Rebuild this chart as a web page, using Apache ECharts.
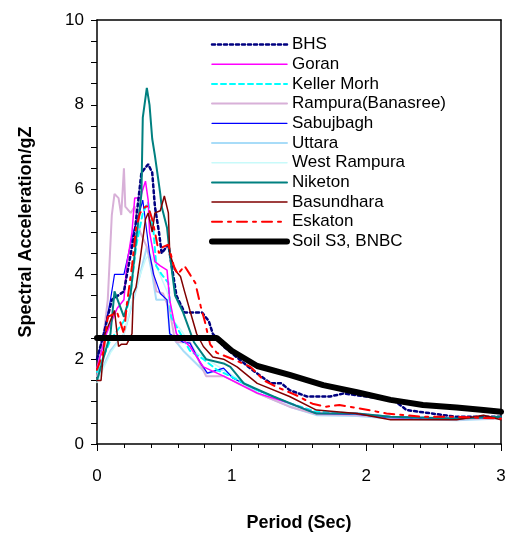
<!DOCTYPE html>
<html>
<head>
<meta charset="utf-8">
<script src="https://cdn.jsdelivr.net/npm/echarts@6/dist/echarts.min.js"></script>
<style>
  html, body { margin: 0; padding: 0; background: #fff; }
  #main { width: 514px; height: 542px; }
</style>
</head>
<body>
<div id="main"></div>
<script>
// 各测站的加速度反应谱 [周期(s), Sa/g]
var bhs = [[0,2.0],[0.05,2.6],[0.11,3.4],[0.2,3.6],[0.28,5.0],[0.33,6.4],[0.38,6.6],[0.41,6.4],[0.43,5.6],[0.46,5.0],[0.48,4.5],[0.53,4.7],[0.59,3.5],[0.65,3.1],[0.78,3.1],[0.83,2.9],[0.86,2.6],[0.94,2.3],[1.14,1.78],[1.29,1.43],[1.37,1.43],[1.43,1.27],[1.56,1.12],[1.73,1.12],[1.83,1.19],[2.2,1.04],[2.3,0.8],[2.67,0.64],[3.0,0.64]];
var goran = [[0,1.8],[0.07,2.6],[0.15,3.2],[0.2,3.4],[0.22,4.2],[0.26,5.0],[0.28,5.8],[0.32,5.8],[0.36,6.2],[0.38,5.75],[0.39,5.0],[0.43,4.3],[0.47,4.2],[0.52,4.1],[0.54,3.4],[0.59,2.6],[0.69,2.3],[0.79,1.82],[0.94,1.6],[1.19,1.2],[1.43,0.96],[1.63,0.72],[1.93,0.72],[2.18,0.64],[2.67,0.6],[3.0,0.64]];
var kellerMorh = [[0,1.7],[0.1,2.45],[0.2,2.9],[0.25,3.55],[0.29,4.65],[0.34,5.45],[0.38,5.7],[0.42,5.0],[0.44,4.2],[0.48,4.0],[0.53,3.8],[0.55,3.0],[0.62,2.6],[0.69,2.2],[0.79,2.0],[0.89,1.75],[0.99,1.6],[1.19,1.27],[1.43,0.96],[1.63,0.76],[1.93,0.72],[2.18,0.64],[2.67,0.6],[3.0,0.64]];
var rampuraBanasree = [[0,1.6],[0.05,2.6],[0.08,3.4],[0.11,5.4],[0.13,5.9],[0.16,5.8],[0.18,5.4],[0.2,6.5],[0.21,5.6],[0.25,5.45],[0.28,5.6],[0.32,5.0],[0.37,4.65],[0.41,4.2],[0.44,3.6],[0.49,3.55],[0.54,3.15],[0.57,2.6],[0.59,2.4],[0.69,2.4],[0.81,1.6],[0.94,1.6],[1.19,1.2],[1.43,0.88],[1.63,0.7],[1.93,0.68],[2.18,0.62],[2.67,0.58],[3.0,0.62]];
var sabujbagh = [[0,2.0],[0.05,2.6],[0.1,3.4],[0.13,4.0],[0.2,4.0],[0.27,5.0],[0.31,5.4],[0.34,5.75],[0.37,5.0],[0.39,4.5],[0.42,4.0],[0.47,3.55],[0.52,3.4],[0.54,2.6],[0.64,2.4],[0.69,2.38],[0.77,1.9],[0.82,1.67],[0.94,1.79],[1.01,1.55],[1.19,1.27],[1.43,0.96],[1.63,0.72],[1.93,0.7],[2.18,0.62],[2.67,0.6],[3.0,0.63]];
var uttara = [[0,1.5],[0.1,2.2],[0.2,2.6],[0.27,3.4],[0.32,4.0],[0.37,4.65],[0.41,4.0],[0.44,3.4],[0.52,3.4],[0.54,2.6],[0.64,2.2],[0.81,1.67],[0.94,1.75],[1.19,1.2],[1.43,0.88],[1.63,0.68],[1.93,0.66],[2.18,0.6],[2.67,0.56],[3.0,0.6]];
var westRampura = [[0,1.45],[0.1,2.15],[0.2,2.6],[0.29,3.7],[0.36,4.35],[0.39,4.5],[0.44,4.2],[0.52,3.6],[0.57,2.9],[0.62,2.7],[0.74,2.15],[0.94,1.75],[1.19,1.27],[1.43,0.92],[1.63,0.7],[1.93,0.68],[2.18,0.62],[2.67,0.58],[3.0,0.62]];
var niketon = [[0,1.5],[0.1,2.6],[0.13,3.6],[0.2,3.0],[0.25,3.55],[0.29,4.8],[0.33,5.9],[0.34,7.7],[0.37,8.4],[0.39,8.0],[0.41,7.2],[0.43,6.8],[0.47,5.9],[0.48,5.6],[0.52,5.1],[0.54,4.5],[0.58,3.5],[0.64,3.1],[0.72,2.4],[0.81,2.0],[0.94,1.9],[0.99,1.82],[1.09,1.43],[1.31,1.12],[1.56,0.8],[1.63,0.72],[1.93,0.72],[2.18,0.64],[2.67,0.6],[3.0,0.64]];
var basundhara = [[0,1.5],[0.03,1.5],[0.06,2.6],[0.13,3.15],[0.16,2.3],[0.18,2.35],[0.22,2.35],[0.26,2.6],[0.27,3.55],[0.29,3.7],[0.32,4.35],[0.36,5.3],[0.38,5.45],[0.41,5.0],[0.43,5.45],[0.47,5.5],[0.5,5.85],[0.53,5.45],[0.54,4.5],[0.58,4.1],[0.62,3.95],[0.65,3.6],[0.69,3.15],[0.74,2.6],[0.79,2.3],[0.86,2.05],[0.94,2.0],[1.04,1.82],[1.19,1.43],[1.43,1.12],[1.63,0.8],[1.93,0.72],[2.18,0.57],[2.67,0.57],[2.87,0.68],[3.0,0.57]];
var eskaton = [[0,1.75],[0.05,2.2],[0.08,3.0],[0.15,3.1],[0.2,2.6],[0.22,3.25],[0.26,4.2],[0.29,5.1],[0.32,5.45],[0.36,5.6],[0.38,5.6],[0.41,5.3],[0.43,5.0],[0.46,4.5],[0.49,4.65],[0.53,4.7],[0.57,4.2],[0.6,4.0],[0.65,4.2],[0.69,4.0],[0.73,3.8],[0.77,3.25],[0.8,2.9],[0.84,2.35],[0.89,2.15],[1.01,2.0],[1.14,1.82],[1.24,1.5],[1.33,1.35],[1.48,1.15],[1.6,0.95],[1.7,0.88],[1.8,0.92],[1.95,0.84],[2.15,0.72],[2.42,0.64],[2.67,0.64],[3.0,0.6]];
var soilS3 = [[0,2.5],[0.89,2.5],[1.0,2.2],[1.19,1.84],[1.43,1.63],[1.68,1.39],[1.93,1.22],[2.18,1.04],[2.42,0.92],[2.67,0.86],[2.87,0.8],[3.0,0.76]];

var seriesNames = ['BHS', 'Goran', 'Keller Morh', 'Rampura(Banasree)', 'Sabujbagh', 'Uttara', 'West Rampura', 'Niketon', 'Basundhara', 'Eskaton', 'Soil S3, BNBC'];
var seriesData = [bhs, goran, kellerMorh, rampuraBanasree, sabujbagh, uttara, westRampura, niketon, basundhara, eskaton, soilS3];
var xTicks = [0, 1, 2, 3];
var yTicks = [0, 2, 4, 6, 8, 10];

var styles = [
    { color: '#000080', width: 2.5, type: [3, 3] },
    { color: '#FF00FF', width: 1.5, type: 'solid' },
    { color: '#00FFFF', width: 2, type: [5, 4] },
    { color: '#D8B0D8', width: 2, type: 'solid' },
    { color: '#0000FF', width: 1.2, type: 'solid' },
    { color: '#A8DCF8', width: 2, type: 'solid' },
    { color: '#C8FAFA', width: 1.5, type: 'solid' },
    { color: '#008080', width: 2, type: 'solid' },
    { color: '#800000', width: 1.5, type: 'solid' },
    { color: '#FF0000', width: 2, type: [10, 6, 3, 6] },
    { color: '#000000', width: 6, type: 'solid' }
];

var font = 'Liberation Sans, Arial, sans-serif';
var myChart = echarts.init(document.getElementById('main'));

var series = seriesNames.map(function (name, i) {
    return {
        name: name,
        type: 'line',
        data: seriesData[i],
        showSymbol: false,
        animation: false,
        z: i === 10 ? 5 : 2,
        lineStyle: { color: styles[i].color, width: styles[i].width, type: styles[i].type, cap: 'round' },
        itemStyle: { color: styles[i].color }
    };
});
// 底层先画浅色的线
var order = [5, 6, 3, 4, 2, 1, 0, 7, 8, 9, 10];
series = order.map(function (i) { return series[i]; });

var option = {
    backgroundColor: '#fff',
    textStyle: { fontFamily: font },
    legend: {
        show: true,
        orient: 'vertical',
        left: 209,
        top: 36,
        data: seriesNames,
        itemWidth: 75,
        itemHeight: 12,
        itemGap: 2.7,
        padding: 0,
        itemStyle: { opacity: 0 },
        lineStyle: { width: 'inherit' },
        textStyle: { fontSize: 17, color: '#000', fontFamily: font, lineHeight: 17 }
    },
    grid: { left: 97, right: 13, top: 20, bottom: 98 },
    xAxis: [{
        type: 'value',
        min: xTicks[0],
        max: xTicks[xTicks.length - 1],
        interval: 1,
        name: 'Period (Sec)',
        nameLocation: 'middle',
        nameGap: 70,
        nameTextStyle: { fontSize: 18, fontWeight: 'bold', color: '#000', fontFamily: font },
        axisLine: { lineStyle: { color: '#000', width: 1.5 } },
        axisTick: { length: 7, lineStyle: { color: '#000' } },
        minorTick: { show: true, splitNumber: 5, length: 4, lineStyle: { color: '#000' } },
        axisLabel: { fontSize: 17, color: '#000', margin: 24 },
        splitLine: { show: false }
    }, {
        type: 'value', position: 'top', min: 0, max: 3,
        axisLine: { show: true, onZero: false, lineStyle: { color: '#000', width: 1.5 } },
        axisTick: { show: false }, axisLabel: { show: false }, splitLine: { show: false }
    }],
    yAxis: [{
        type: 'value',
        min: yTicks[0],
        max: yTicks[yTicks.length - 1],
        interval: 2,
        name: 'Spectral Acceleration/gZ',
        nameLocation: 'middle',
        nameGap: 62,
        nameTextStyle: { fontSize: 18, fontWeight: 'bold', color: '#000', fontFamily: font },
        axisLine: { show: true, lineStyle: { color: '#000', width: 1.5 } },
        axisTick: { show: true, length: 6, lineStyle: { color: '#000' } },
        minorTick: { show: true, splitNumber: 4, length: 6, lineStyle: { color: '#000' } },
        axisLabel: { fontSize: 17, color: '#000', margin: 13 },
        splitLine: { show: false }
    }, {
        type: 'value', position: 'right', min: 0, max: 10,
        axisLine: { show: true, onZero: false, lineStyle: { color: '#000', width: 1.5 } },
        axisTick: { show: false }, axisLabel: { show: false }, splitLine: { show: false }
    }],
    series: series
};
myChart.setOption(option);
</script>
</body>
</html>
